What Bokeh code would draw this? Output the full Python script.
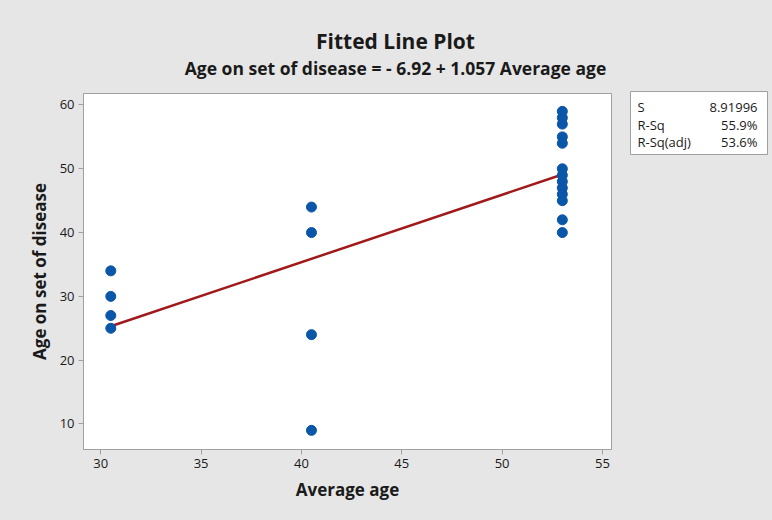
from bokeh.plotting import figure
from bokeh.layouts import column, row
from bokeh.models import Range1d, Label, FixedTicker
from bokeh.embed import file_html
from bokeh.resources import INLINE

# ---- data ----
avg_age = [30.5, 30.5, 30.5, 30.5,
           40.5, 40.5, 40.5, 40.5,
           53, 53, 53, 53, 53, 53, 53, 53, 53, 53, 53, 53, 53]
onset_age = [34, 30, 27, 25,
             44, 40, 24, 9,
             59, 58, 57, 55, 54, 50, 49, 48, 47, 46, 45, 42, 40]
intercept = -6.92
slope = 1.057
stat_names = ["S", "R-Sq", "R-Sq(adj)"]
stat_values = ["8.91996", "55.9%", "53.6%"]
x_ticks = [30, 35, 40, 45, 50, 55]
y_ticks = [10, 20, 30, 40, 50, 60]
title_text = "Fitted Line Plot"
subtitle_text = "Age on set of disease = - 6.92 + 1.057 Average age"

fit_x = [min(avg_age), max(avg_age)]
fit_y = [intercept + slope * v for v in fit_x]

FONT = "Open Sans"
GRAY = "#e6e6e6"
EDGE = "#a0a0a0"
INK = "#1a1a1a"


def blank(width, height, xr, yr):
    f = figure(width=width, height=height, output_backend="svg", toolbar_location=None,
               x_range=Range1d(*xr), y_range=Range1d(*yr),
               x_axis_type=None, y_axis_type=None,
               min_border=0, min_border_left=0, min_border_right=0,
               min_border_top=0, min_border_bottom=0)
    f.background_fill_color = GRAY
    f.border_fill_color = GRAY
    f.outline_line_color = None
    f.grid.visible = False
    return f


# ---- title strip (its frame is aligned with the plot frame: page x 83..611) ----
top = blank(620, 80, (83, 611), (80, 0))
top.add_layout(Label(x=395, y=40, text=title_text, text_align="center",
                     text_baseline="middle", text_font=FONT, text_font_size="21px",
                     text_font_style="bold", text_color=INK))
top.add_layout(Label(x=395, y=67, text=subtitle_text, text_align="center",
                     text_baseline="middle", text_font=FONT, text_font_size="17.5px",
                     text_font_style="bold", text_color=INK))

# ---- main plot ----
p = figure(width=620, height=440, output_backend="svg", toolbar_location=None,
           x_range=Range1d(29.14, 55.45), y_range=Range1d(6.0, 61.8),
           min_border_left=83, min_border_right=9,
           min_border_top=13, min_border_bottom=71)
p.background_fill_color = "white"
p.border_fill_color = GRAY
p.outline_line_color = EDGE
p.grid.visible = False

for ax in (p.xaxis, p.yaxis):
    ax.axis_line_color = EDGE
    ax.major_tick_line_color = EDGE
    ax.major_tick_out = 5
    ax.major_tick_in = 0
    ax.minor_tick_line_color = None
    ax.major_label_text_font = FONT
    ax.major_label_text_font_size = "13px"
    ax.major_label_text_color = INK
    ax.axis_label_text_font = FONT
    ax.axis_label_text_font_size = "17px"
    ax.axis_label_text_font_style = "bold"
    ax.axis_label_text_color = INK

p.xaxis.ticker = FixedTicker(ticks=x_ticks)
p.yaxis.ticker = FixedTicker(ticks=y_ticks)
p.xaxis.axis_label = "Average age"
p.yaxis.axis_label = "Age on set of disease"
p.xaxis.axis_label_standoff = 7
p.yaxis.axis_label_standoff = 6
p.xaxis.major_label_standoff = 4
p.yaxis.major_label_standoff = 4

p.line(fit_x, fit_y, line_color="#a01a1c", line_width=2.5)
p.scatter(avg_age, onset_age, size=10, fill_color="#0a56a8", line_color="#0a56a8")

# ---- statistics box (page coordinates) ----
side = blank(152, 520, (620, 772), (520, 0))
side.quad(left=[630], right=[767], top=[91], bottom=[154],
          fill_color="white", line_color=EDGE, line_width=1)
row_y = [106.5, 124, 141.5]
for name, val, yy in zip(stat_names, stat_values, row_y):
    side.add_layout(Label(x=637, y=yy, text=name, text_align="left", text_baseline="middle",
                          text_font=FONT, text_font_size="13px", text_color=INK))
    side.add_layout(Label(x=757, y=yy, text=val, text_align="right", text_baseline="middle",
                          text_font=FONT, text_font_size="13px", text_color=INK))

bg = {"background-color": GRAY}
layout = row(column(top, p, spacing=0, styles=bg), side, spacing=0, styles=bg)
open("out.html", "w").write(file_html(layout, INLINE))
